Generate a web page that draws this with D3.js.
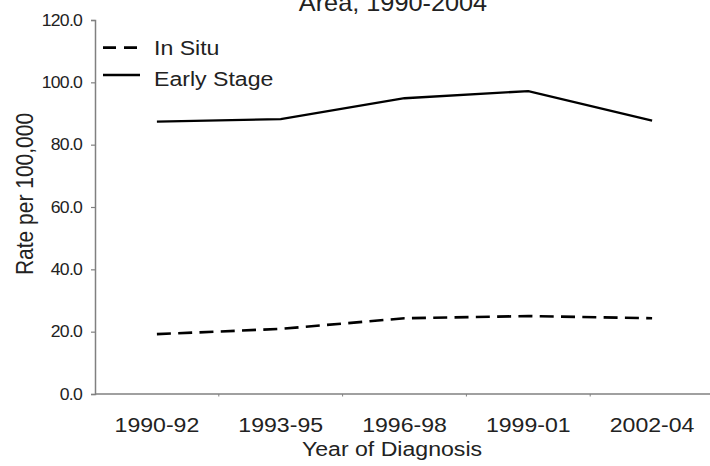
<!DOCTYPE html>
<html>
<head>
<meta charset="utf-8">
<script src="https://cdn.jsdelivr.net/npm/d3@7"></script>
<style>
  body { margin: 0; background: #fff; }
  svg { display: block; font-family: "Liberation Sans", Arial, sans-serif; }
</style>
</head>
<body>
<svg id="chart" width="710" height="466"></svg>
<script>
const years = ["1990-92", "1993-95", "1996-98", "1999-01", "2002-04"];
const inSitu = [19.2, 20.9, 24.3, 25.0, 24.3];
const earlyStage = [87.4, 88.2, 94.9, 97.2, 87.7];
const yTicks = [0, 20, 40, 60, 80, 100, 120];

const svg = d3.select("#chart");
const sx = 1.1; // text in the picture is a bit wider than it is tall

const x = d3.scaleBand().domain(years).range([95, 714]);
const y = d3.scaleLinear().domain([0, 120]).range([394, 20]);

// title (only the last line shows)
svg.append("text")
    .attr("transform", `translate(393,11) scale(${sx},1)`)
    .attr("text-anchor", "middle")
    .style("font-size", "23px")
    .attr("fill", "#222")
    .text("Area, 1990-2004");

// y axis
const yAxis = svg.append("g")
    .attr("transform", "translate(95,0)")
    .call(d3.axisLeft(y).tickValues(yTicks).tickFormat(d3.format(".1f")).tickSize(4).tickPadding(9));
yAxis.select(".domain").attr("stroke", "#808080").attr("stroke-width", 1.5);
yAxis.selectAll(".tick line").attr("stroke", "#808080").attr("stroke-width", 1.2);
yAxis.selectAll("text")
    .attr("x", null)
    .attr("transform", `translate(-13,0) scale(${sx},1)`)
    .style("font-size", "16px")
    .style("letter-spacing", "-0.7px")
    .attr("fill", "#222");

// x axis
const xg = svg.append("g").attr("transform", "translate(0,394)");
xg.append("line")
    .attr("x1", x.range()[0]).attr("x2", x.range()[1])
    .attr("stroke", "#808080").attr("stroke-width", 1.5);
xg.selectAll(".xtick")
    .data(years.slice(1))
    .join("line")
    .attr("x1", d => x(d)).attr("x2", d => x(d))
    .attr("y1", 0).attr("y2", 2.5)
    .attr("stroke", "#808080");
xg.selectAll(".xlab")
    .data(years)
    .join("text")
    .attr("transform", d => `translate(${x(d) + x.bandwidth() / 2},38) scale(${sx},1)`)
    .attr("text-anchor", "middle")
    .style("font-size", "21px")
    .attr("fill", "#222")
    .text(d => d);

// axis titles
svg.append("text")
    .attr("transform", `translate(392,456) scale(${sx},1)`)
    .attr("text-anchor", "middle")
    .style("font-size", "21px")
    .attr("fill", "#222")
    .text("Year of Diagnosis");

svg.append("text")
    .attr("transform", `translate(33,194) scale(${sx},1) rotate(-90)`)
    .attr("text-anchor", "middle")
    .style("font-size", "21px")
    .attr("fill", "#222")
    .text("Rate per 100,000");

// lines
const line = d3.line()
    .x((d, i) => x(years[i]) + x.bandwidth() / 2)
    .y(d => y(d));

svg.append("path")
    .datum(earlyStage)
    .attr("d", line)
    .attr("fill", "none")
    .attr("stroke", "#000")
    .attr("stroke-width", 2.3);

svg.append("path")
    .datum(inSitu)
    .attr("d", line)
    .attr("fill", "none")
    .attr("stroke", "#000")
    .attr("stroke-width", 2.6)
    .attr("stroke-dasharray", "14,7.3");

// legend
const legend = [
    {name: "In Situ", dash: "13,8", ly: 47.7, ty: 55},
    {name: "Early Stage", dash: null, ly: 75, ty: 85.5}
];
const lg = svg.append("g");
lg.selectAll("line")
    .data(legend)
    .join("line")
    .attr("x1", 103).attr("x2", 140)
    .attr("y1", d => d.ly).attr("y2", d => d.ly)
    .attr("stroke", "#000")
    .attr("stroke-width", d => d.dash ? 2.8 : 2.3)
    .attr("stroke-dasharray", d => d.dash);
lg.selectAll("text")
    .data(legend)
    .join("text")
    .attr("transform", d => `translate(154,${d.ty}) scale(${sx},1)`)
    .style("font-size", "21px")
    .attr("fill", "#222")
    .text(d => d.name);
</script>
</body>
</html>
